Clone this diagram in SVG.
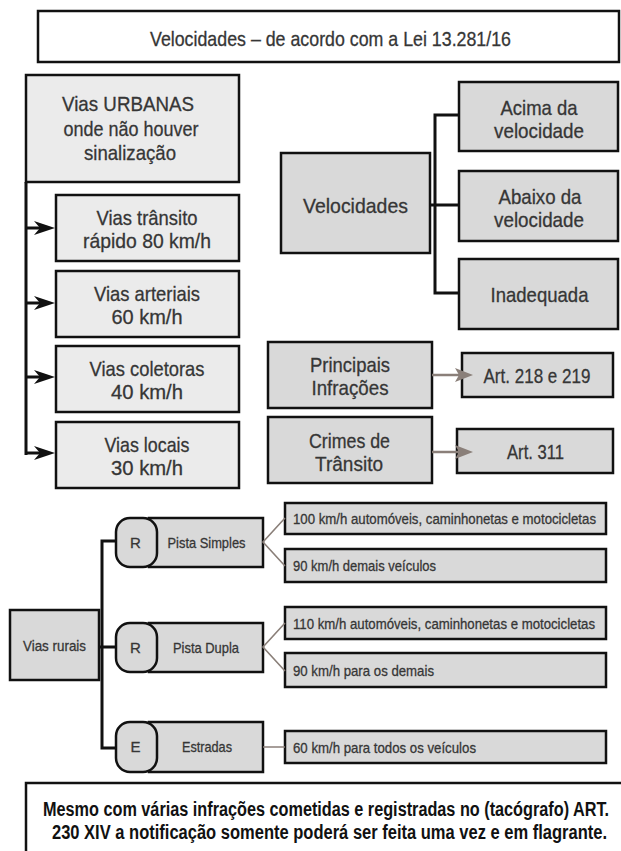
<svg xmlns="http://www.w3.org/2000/svg" width="621" height="851" viewBox="0 0 621 851">
<style>
text{font-family:"Liberation Sans",Arial,sans-serif;fill:#363636;text-anchor:middle;stroke:#363636;stroke-width:0.3}
.b{stroke:#111;stroke-width:2.5}
.w{fill:#fff}
.l{fill:#ebebeb}
.d{fill:#d9d9d9}
.t20{font-size:21px}
.t15{font-size:15px}
.t14{font-size:15px;text-anchor:start}
.k{fill:none;stroke:#111;stroke-width:3}
.g{fill:none;stroke:#8a7f79;stroke-width:1.6}
.ga{fill:none;stroke:#8a7f79;stroke-width:2.6}
.bold{font-weight:bold;fill:#111;stroke:none;font-size:21px}
</style>
<rect width="621" height="851" fill="#fff"/>
<g id="title"><rect class="b w" x="38" y="11" width="581" height="51"/><text class="t20" x="330.5" y="46" textLength="361" lengthAdjust="spacingAndGlyphs">Velocidades – de acordo com a Lei 13.281/16</text></g>
<g id="urbanas"><rect class="b l" x="26" y="75" width="213" height="107"/><text class="t20" x="128" y="111" textLength="132" lengthAdjust="spacingAndGlyphs">Vias URBANAS</text><text class="t20" x="131" y="136" textLength="135" lengthAdjust="spacingAndGlyphs">onde não houver</text><text class="t20" x="130" y="160" textLength="92" lengthAdjust="spacingAndGlyphs">sinalização</text></g>
<g id="u1"><rect class="b l" x="56" y="195" width="183" height="66"/><text class="t20" x="147" y="225" textLength="101" lengthAdjust="spacingAndGlyphs">Vias trânsito</text><text class="t20" x="147" y="248" textLength="128" lengthAdjust="spacingAndGlyphs">rápido 80 km/h</text></g>
<g id="u2"><rect class="b l" x="56" y="271" width="183" height="66"/><text class="t20" x="147" y="301" textLength="106" lengthAdjust="spacingAndGlyphs">Vias arteriais</text><text class="t20" x="147" y="324" textLength="71" lengthAdjust="spacingAndGlyphs">60 km/h</text></g>
<g id="u3"><rect class="b l" x="56" y="346" width="183" height="66"/><text class="t20" x="147" y="376" textLength="115" lengthAdjust="spacingAndGlyphs">Vias coletoras</text><text class="t20" x="147" y="399" textLength="72" lengthAdjust="spacingAndGlyphs">40 km/h</text></g>
<g id="u4"><rect class="b l" x="56" y="422" width="183" height="66"/><text class="t20" x="147" y="452" textLength="85" lengthAdjust="spacingAndGlyphs">Vias locais</text><text class="t20" x="147" y="475" textLength="72" lengthAdjust="spacingAndGlyphs">30 km/h</text></g>
<g id="velocidades"><rect class="b d" x="281" y="153" width="149" height="100"/><text class="t20" x="355.5" y="213" textLength="105" lengthAdjust="spacingAndGlyphs">Velocidades</text></g>
<g id="acima"><rect class="b d" x="459" y="82" width="159" height="69"/><text class="t20" x="539" y="115" textLength="77" lengthAdjust="spacingAndGlyphs">Acima da</text><text class="t20" x="539" y="138" textLength="90" lengthAdjust="spacingAndGlyphs">velocidade</text></g>
<g id="abaixo"><rect class="b d" x="459" y="171" width="159" height="70"/><text class="t20" x="540" y="204" textLength="83" lengthAdjust="spacingAndGlyphs">Abaixo da</text><text class="t20" x="539" y="227" textLength="90" lengthAdjust="spacingAndGlyphs">velocidade</text></g>
<g id="inadequada"><rect class="b d" x="459" y="259" width="159" height="70"/><text class="t20" x="539.5" y="302" textLength="98" lengthAdjust="spacingAndGlyphs">Inadequada</text></g>
<g id="principais"><rect class="b d" x="268" y="342" width="164" height="66"/><text class="t20" x="350" y="372" textLength="80" lengthAdjust="spacingAndGlyphs">Principais</text><text class="t20" x="350" y="395" textLength="77" lengthAdjust="spacingAndGlyphs">Infrações</text></g>
<g id="art218"><rect class="b d" x="462" y="353" width="151" height="44"/><text class="t20" x="537" y="383" textLength="107" lengthAdjust="spacingAndGlyphs">Art. 218 e 219</text></g>
<g id="crimes"><rect class="b d" x="268" y="417" width="164" height="66"/><text class="t20" x="349.5" y="448" textLength="81" lengthAdjust="spacingAndGlyphs">Crimes de</text><text class="t20" x="349" y="471" textLength="68" lengthAdjust="spacingAndGlyphs">Trânsito</text></g>
<g id="art311"><rect class="b d" x="457" y="429" width="156" height="44"/><text class="t20" x="535.5" y="459" textLength="57" lengthAdjust="spacingAndGlyphs">Art. 311</text></g>
<g id="rurais"><rect class="b d" x="10" y="610" width="89" height="70"/><text class="t15" x="54.5" y="651" textLength="63" lengthAdjust="spacingAndGlyphs">Vias rurais</text></g>
<g id="simples"><rect class="b d" x="149" y="518" width="114" height="49"/><rect class="b d" x="116" y="518" width="41" height="49" rx="14"/><text class="t15" x="135.5" y="548">R</text><text class="t15" x="206.5" y="548" textLength="78" lengthAdjust="spacingAndGlyphs">Pista Simples</text></g>
<g id="dupla"><rect class="b d" x="149" y="623" width="114" height="49"/><rect class="b d" x="116" y="623" width="41" height="49" rx="14"/><text class="t15" x="135.5" y="653">R</text><text class="t15" x="206" y="653" textLength="66" lengthAdjust="spacingAndGlyphs">Pista Dupla</text></g>
<g id="estradas"><rect class="b d" x="149" y="722" width="114" height="50"/><rect class="b d" x="116" y="722" width="41" height="50" rx="14"/><text class="t15" x="135.5" y="752">E</text><text class="t15" x="207" y="752" textLength="50" lengthAdjust="spacingAndGlyphs">Estradas</text></g>
<g id="r1"><rect class="b d" x="285" y="503" width="321" height="31"/><text class="t14" transform="translate(293 524) scale(0.88 1)" textLength="344.3" lengthAdjust="spacingAndGlyphs">100 km/h automóveis, caminhonetas e motocicletas</text></g>
<g id="r2"><rect class="b d" x="285" y="549" width="321" height="33"/><text class="t14" x="293" y="571" textLength="143" lengthAdjust="spacingAndGlyphs">90 km/h demais veículos</text></g>
<g id="r3"><rect class="b d" x="285" y="607" width="321" height="32"/><text class="t14" transform="translate(293 628.5) scale(0.88 1)" textLength="343.2" lengthAdjust="spacingAndGlyphs">110 km/h automóveis, caminhonetas e motocicletas</text></g>
<g id="r4"><rect class="b d" x="285" y="653" width="321" height="34"/><text class="t14" x="293" y="675.5" textLength="141" lengthAdjust="spacingAndGlyphs">90 km/h para os demais</text></g>
<g id="r5"><rect class="b d" x="285" y="731" width="321" height="32"/><text class="t14" x="293" y="752.5" textLength="183" lengthAdjust="spacingAndGlyphs">60 km/h para todos os veículos</text></g>
<g id="nota"><rect class="b w" x="26" y="783" width="620" height="100"/><text class="bold" transform="translate(326 815.5) scale(0.7 1)" textLength="808.6" lengthAdjust="spacingAndGlyphs">Mesmo com várias infrações cometidas e registradas no (tacógrafo) ART.</text><text class="bold" transform="translate(329.5 838.5) scale(0.7 1)" textLength="792.9" lengthAdjust="spacingAndGlyphs">230 XIV a notificação somente poderá ser feita uma vez e em flagrante.</text></g>
<g id="connectors">
<path class="k" d="M26 182V455M26 228H40M26 303H40M26 377H40M26 453H40"/>
<path fill="#111" d="M55 228L34 221L40 228L34 235ZM55 303L34 296L40 303L34 310ZM55 377L34 370L40 377L34 384ZM55 453L34 446L40 453L34 460Z"/>
<path class="k" d="M459 115H435V293H459M430 205H459"/>
<path class="ga" d="M432 375H460M432 452H460"/>
<path fill="#8a7f79" d="M473 375L455 368L459 375L455 382ZM473 452L455 445L459 452L455 459Z"/>
<path class="k" d="M116 541H102V748H116M99 647H116"/>
<path class="g" d="M285 518L263 542L285 566M285 623L263 647L285 671M263 747H285"/>
</g>
</svg>
